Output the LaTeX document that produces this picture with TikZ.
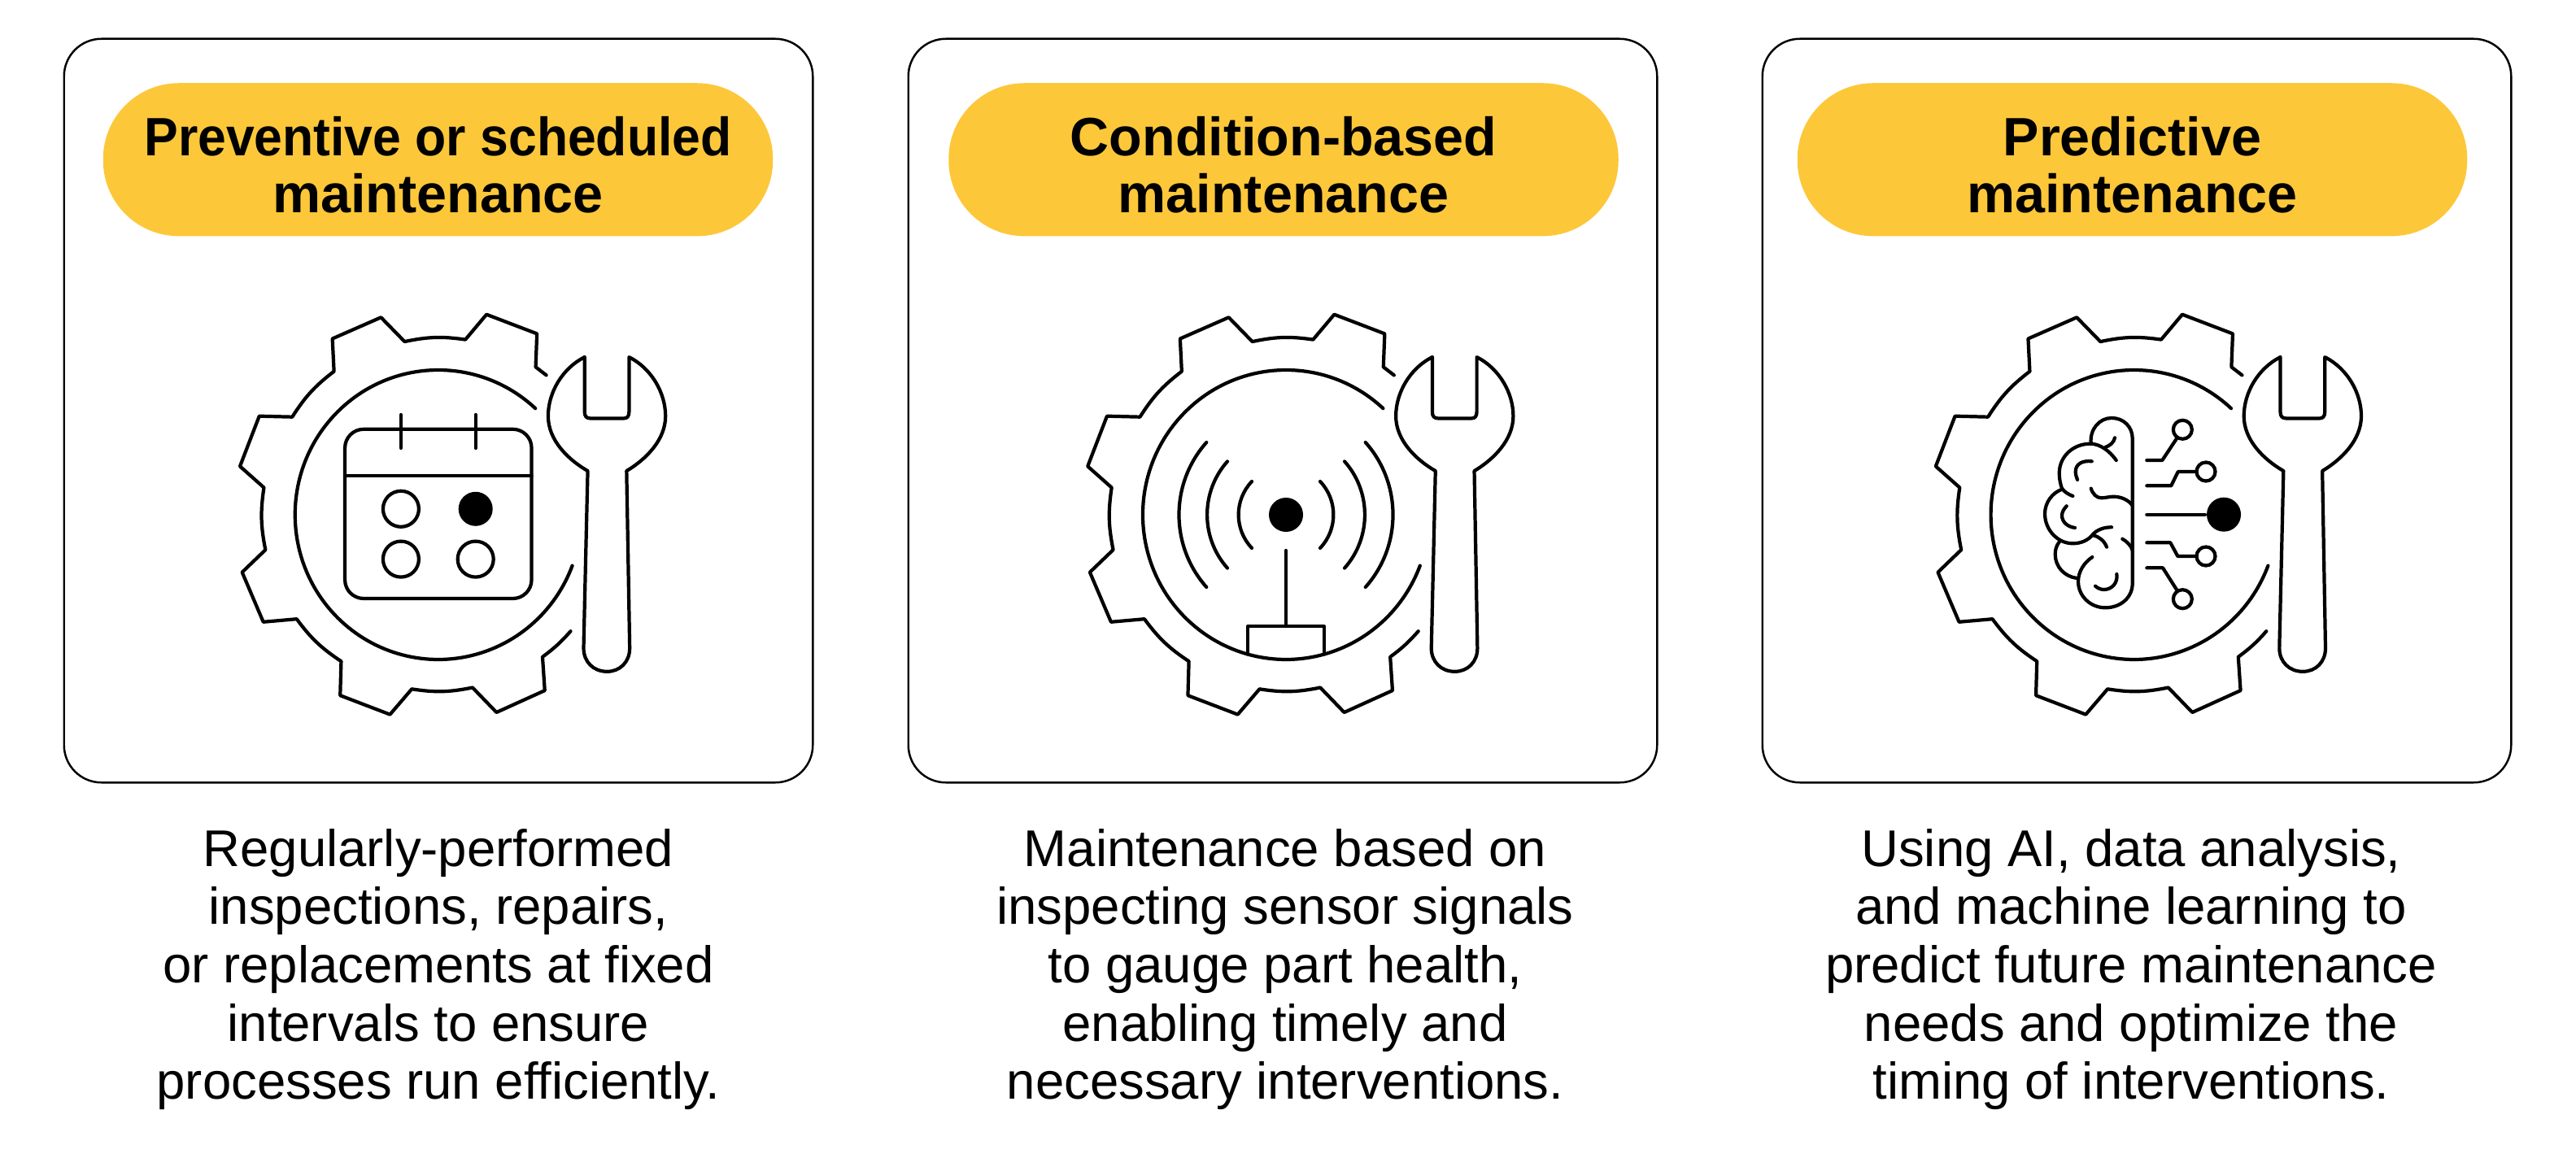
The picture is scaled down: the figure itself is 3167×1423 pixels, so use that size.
\documentclass[tikz,border=0pt]{standalone}
\usepackage{graphicx}
\usepackage{fontspec}
\setmainfont{Liberation Sans}
\usetikzlibrary{positioning}
\definecolor{pillyellow}{HTML}{FDC73A}
\tikzset{card/.style={draw,line width=0.7pt,rounded corners=0.46cm,minimum width=9.2cm,minimum height=9.14cm}}
\tikzset{pill/.style={fill=pillyellow,rounded corners=0.93cm,minimum width=8.23cm,minimum height=1.88cm,align=center,inner sep=0pt,font=\fontsize{18.9}{19.9}\selectfont\bfseries}}
\tikzset{bodytext/.style={align=center,inner sep=0pt,font=\fontsize{18.05}{20.37}\selectfont}}
\tikzset{icon/.style={line width=1.2pt,line cap=round,line join=round}}
\tikzset{pad/.style={draw,circle,icon,inner sep=0pt,minimum size=0.23cm}}
\tikzset{solid dot/.style={fill=black,circle,inner sep=0pt,minimum size=0.42cm}}
\newcommand{\toprule}{\rule{0pt}{0.62cm}}
% gear with its inner ring and the wrench
\newcommand{\gearwrench}{
  \draw (134.3,171.6) -- (121.1,181.7) -- (122.7,222.6) -- (60,246.3) -- (33.7,215.4)
    to[bend right=10] (-41.8,212.9) -- (-71.2,242.7) -- (-131.6,216.5) -- (-129.6,176.3)
    to[bend right=10] (-181.5,120.3) -- (-222.5,121.3) -- (-246.5,59.6) -- (-216.7,33.4)
    to[bend right=10] (-214.8,-43.1) -- (-243.8,-70.7) -- (-217.5,-131.8) -- (-176,-128.2)
    to[bend right=10] (-120.7,-180.2) -- (-121.9,-222.2) -- (-60,-245.6) -- (-32.9,-214.3)
    to[bend right=10] (42.6,-212.5) -- (72.4,-243) -- (132.4,-216.1) -- (129.6,-174.8)
    to[bend right=6] (164.5,-143.2);
  \draw (47.3:178) arc (47.3:339.4:178);
  \draw (181.9,193.9) -- (181.9,126.7) .. controls (181.9,121) and (184,118.5) .. (189.6,118.5)
    -- (230.3,118.5) .. controls (235,118.5) and (237.2,121) .. (237.2,126.7) -- (237.2,193.9)
    .. controls (265,180) and (282.5,150) .. (282.5,121.3)
    .. controls (282.5,92) and (258,68) .. (234.1,53.9) -- (238,-164)
    .. controls (238,-181) and (226,-192.8) .. (209.8,-192.8)
    .. controls (193,-192.8) and (180.7,-181) .. (180.7,-164) -- (185.8,53.9)
    .. controls (161,68) and (136.6,92) .. (136.6,121.3)
    .. controls (136.6,150) and (154,180) .. (181.9,193.9);
}
\begin{document}
\begin{tikzpicture}[x=0.01cm,y=0.01cm]
\useasboundingbox (0,0) rectangle (3167,1423);

\node[card] (card1) at (539,918) {};
\node[card] (card2) at (1577,918) {};
\node[card] (card3) at (2627,918) {};

\node[pill,below=0.55cm of card1.north,xshift=-0.005cm] (pill1) {\toprule\scalebox{0.94}[1]{Preventive or scheduled}\\maintenance};
\node[pill,below=0.55cm of card2.north,xshift=0.01cm] (pill2) {\toprule Condition-based\\maintenance};
\node[pill,below=0.55cm of card3.north,xshift=-0.055cm] (pill3) {\toprule Predictive\\maintenance};

\node[bodytext,below=0.55cm of card1] (body1) {Regularly-performed\\inspections, repairs,\\or replacements at fixed\\intervals to ensure\\processes run efficiently.};
\node[bodytext,below=0.55cm of card2,xshift=0.03cm] (body2) {Maintenance based on\\inspecting sensor signals\\to gauge part health,\\enabling timely and\\necessary interventions.};
\node[bodytext,below=0.55cm of card3,xshift=-0.07cm] (body3) {Using AI, data analysis,\\and machine learning to\\predict future maintenance\\needs and optimize the\\timing of interventions.};

% calendar
\begin{scope}[shift={(538.8,790)},xscale=0.989,icon]
\gearwrench
\draw[rounded corners=0.23cm] (-116,-103) rectangle (116,105.2);
\draw (-116,47.7) -- (116,47.7);
\draw (-46.4,123) -- (-46.4,82);
\draw (46.4,123) -- (46.4,82);
\node[draw,circle,icon,inner sep=0pt,minimum size=0.44cm] (day1) at (-46.4,7.2) {};
\node[solid dot] (day2) at (46.4,7.2) {};
\node[draw,circle,icon,inner sep=0pt,minimum size=0.44cm] (day3) at (-46.4,-54.6) {};
\node[draw,circle,icon,inner sep=0pt,minimum size=0.44cm] (day4) at (46.4,-54.6) {};
\end{scope}

% sensor
\begin{scope}[shift={(1581,790)},xscale=0.989,icon]
\gearwrench
\node[solid dot] (sensor) at (0,0) {};
\foreach \r/\a in {59/44,98/42,133/42}{
  \draw (-\a:\r) arc (-\a:\a:\r);
  \draw (180-\a:\r) arc (180-\a:180+\a:\r);
}
\draw (0,-44) -- (0,-137);
\draw (-47.4,-171.6) -- (-47.4,-137) -- (47.4,-137) -- (47.4,-171.6);
\end{scope}

% brain
\begin{scope}[shift={(2623.6,790)},xscale=0.989,icon]
\gearwrench
\end{scope}
\begin{scope}[shift={(2625,790)},icon]
\draw (-54.3,88) .. controls (-56,105) and (-44,119) .. (-29,119) .. controls (-14,119) and (-3.3,108) .. (-3.3,93.7) -- (-3.3,-84.3) .. controls (-3.3,-102) and (-18,-114.3) .. (-36.7,-114.3) .. controls (-55,-114.3) and (-70,-100) .. (-70,-82) .. controls (-70,-70) and (-63,-59) .. (-52.7,-52);
\draw (-23.3,67) .. controls (-31,78) and (-43,87.3) .. (-55,87.3) .. controls (-77,87.3) and (-93.3,71) .. (-93.3,51.3) .. controls (-93.3,44) and (-92,38) .. (-90,32.3) .. controls (-87,28) and (-82,25) .. (-76.7,23);
\draw (-90,31.3) .. controls (-102,27) and (-111,15) .. (-111,1.3) .. controls (-111,-19) and (-95,-35.3) .. (-76.7,-35.3) .. controls (-66,-35.3) and (-57,-31) .. (-51.7,-23.7) .. controls (-46,-18) and (-38,-15.3) .. (-29,-15.3);
\draw (-51.7,-25.3) .. controls (-44,-27) and (-38,-32) .. (-35,-39.7);
\draw (-93,-33) .. controls (-97,-38) and (-98.3,-43) .. (-98.3,-48.7) .. controls (-98.3,-64) and (-87,-76) .. (-71.7,-78);
\draw (-53.3,65.7) .. controls (-64,67) and (-73.3,63) .. (-73.3,53) .. controls (-73.3,49) and (-72,46) .. (-71,43);
\draw (-54.3,32.3) .. controls (-52,25) and (-47,20.7) .. (-41.7,20.7) .. controls (-36,20.7) and (-32,22.3) .. (-26.7,22.3) .. controls (-17,22.3) and (-8,18) .. (-3.3,11.3);
\draw (-84.3,10.7) .. controls (-88,7) and (-90,3) .. (-90,-1) .. controls (-90,-9) and (-83,-15) .. (-74,-16);
\draw (-15.7,-29.7) .. controls (-10,-33) and (-5,-38) .. (-3.3,-43.7);
\draw (-22.7,-73) .. controls (-21,-84) and (-29,-92) .. (-38.3,-92) .. controls (-42,-92) and (-46,-90.5) .. (-49,-87.7);
\draw (-25,94.7) .. controls (-26,89) and (-31,85) .. (-36.7,83);
\node[pad] (pad1) at (58.3,104.7) {};
\node[pad] (pad2) at (87,53) {};
\node[solid dot] (core) at (109,0.3) {};
\node[pad] (pad3) at (87,-51) {};
\node[pad] (pad4) at (58.3,-103.7) {};
\coordinate (wire1) at (14.3,67);
\coordinate (wire2) at (14.3,35.7);
\coordinate (wire3) at (14.3,0.3);
\coordinate (wire4) at (14.3,-34.3);
\coordinate (wire5) at (14.3,-65.3);
\draw (wire1) -- (33.3,67) -- (pad1);
\draw (wire2) -- (44.3,35.7) -- (52.7,53) -- (pad2);
\draw (wire3) -- (core);
\draw (wire4) -- (43.3,-34.3) -- (52.3,-51) -- (pad3);
\draw (wire5) -- (34,-65.3) -- (pad4);
\end{scope}
\end{tikzpicture}
\end{document}
